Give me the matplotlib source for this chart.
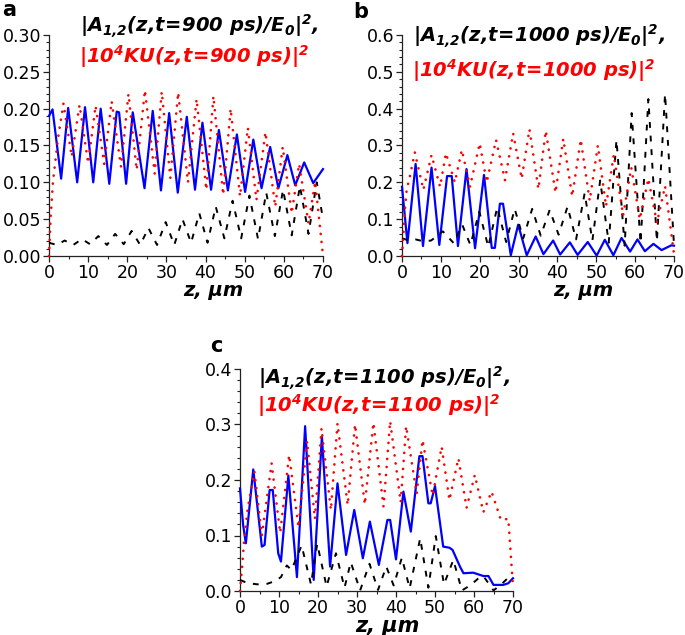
import matplotlib
matplotlib.use('Agg')
import matplotlib.pyplot as plt
from matplotlib.ticker import MultipleLocator, FormatStrFormatter

plt.rcParams['font.family'] = ['DejaVu Sans']
plt.rcParams['mathtext.fontset'] = 'custom'
plt.rcParams['mathtext.rm'] = 'DejaVu Sans:bold:italic'
plt.rcParams['mathtext.it'] = 'DejaVu Sans:bold:italic'
plt.rcParams['mathtext.bf'] = 'DejaVu Sans:bold:italic'

# ---------------- data ----------------
# panel a, t = 900 ps
a_blue_z = [0, 0.9, 3.1, 4.9, 7.2, 9.2, 11.3, 13.2, 15.4, 17.3, 17.9, 19.7, 21.4, 24.4, 26.5,
            28.6, 30.7, 32.9, 35.2, 37.3, 39.2, 41.4, 43.4, 45.7, 48.0, 50.1, 52.2, 54.3, 56.5,
            58.6, 60.9, 62.9, 65.2, 67.5, 70]
a_blue_v = [0.190, 0.199, 0.105, 0.201, 0.100, 0.202, 0.100, 0.200, 0.098, 0.196, 0.195, 0.098,
            0.195, 0.092, 0.197, 0.089, 0.194, 0.086, 0.189, 0.090, 0.181, 0.090, 0.171, 0.089,
            0.165, 0.087, 0.158, 0.092, 0.148, 0.092, 0.137, 0.096, 0.127, 0.099, 0.118]
a_red_z = [0, 0.4, 1.0, 2.3, 3.7, 5.8, 7.8, 10.0, 11.9, 14.1, 16.0, 18.4, 20.3, 22.4, 24.5, 27.0,
           28.8, 31.0, 33.0, 35.5, 37.7, 40.2, 42.0, 44.5, 46.4, 48.8, 50.8, 53.0, 55.3, 57.8,
           59.7, 62.0, 63.9, 66.3, 68.0, 70]
a_red_v = [0.0, 0.05, 0.10, 0.16, 0.207, 0.135, 0.205, 0.126, 0.204, 0.125, 0.210, 0.121, 0.220,
           0.117, 0.225, 0.112, 0.223, 0.106, 0.222, 0.100, 0.213, 0.090, 0.217, 0.083, 0.200,
           0.081, 0.174, 0.076, 0.168, 0.067, 0.148, 0.058, 0.125, 0.044, 0.101, 0.0]
a_black_z = [0, 2.0, 4.0, 6.2, 8.4, 10.5, 12.6, 14.8, 16.9, 19.1, 21.1, 23.3, 25.4, 27.6, 29.8,
             32.0, 34.1, 36.3, 38.4, 40.5, 42.6, 44.8, 46.9, 49.1, 51.2, 53.4, 55.5, 57.7, 59.8,
             62.0, 64.1, 66.3, 68.4, 70]
a_black_v = [0.018, 0.015, 0.021, 0.015, 0.023, 0.016, 0.027, 0.015, 0.030, 0.016, 0.034, 0.015,
             0.038, 0.015, 0.046, 0.015, 0.050, 0.018, 0.058, 0.018, 0.067, 0.024, 0.075, 0.024,
             0.082, 0.023, 0.086, 0.027, 0.090, 0.028, 0.095, 0.030, 0.100, 0.050]

# panel b, t = 1000 ps
b_blue_z = [0, 1.4, 3.5, 5.4, 7.6, 9.6, 11.6, 12.8, 14.4, 16.6, 18.8, 21.1, 23.1, 23.9, 25.2,
            26.0, 28.0, 29.9, 32.1, 34.4, 36.4, 38.9, 40.7, 43.2, 45.2, 47.8, 50.1, 52.2, 54.4,
            56.5, 58.7, 60.6, 62.5, 64.7, 66.8, 69.3, 70]
b_blue_v = [0.188, 0.035, 0.250, 0.027, 0.240, 0.030, 0.217, 0.217, 0.027, 0.236, 0.021, 0.220,
            0.022, 0.022, 0.142, 0.142, 0.002, 0.085, 0.002, 0.053, 0.005, 0.042, 0.004, 0.037,
            0.003, 0.038, 0.001, 0.044, 0.002, 0.049, 0.012, 0.045, 0.013, 0.033, 0.016, 0.029,
            0.028]
b_red_z = [0, 0.3, 0.8, 1.2, 2.0, 3.3, 5.5, 7.6, 9.8, 11.3, 13.6, 15.4, 17.5, 20.0, 21.8, 24.2,
           26.5, 28.6, 30.8, 32.8, 35.1, 37.0, 39.5, 41.5, 43.8, 46.0, 48.3, 50.4, 52.5, 54.5,
           56.9, 59.0, 61.2, 63.4, 65.6, 67.7, 70]
b_red_v = [0.0, 0.05, 0.13, 0.18, 0.215, 0.281, 0.180, 0.274, 0.188, 0.279, 0.200, 0.288, 0.188,
           0.306, 0.200, 0.315, 0.206, 0.333, 0.210, 0.344, 0.182, 0.340, 0.172, 0.318, 0.162,
           0.316, 0.150, 0.300, 0.135, 0.275, 0.110, 0.240, 0.100, 0.210, 0.090, 0.190, 0.005]
b_black_z = [0, 1.5, 3.5, 5.5, 7.5, 10.5, 13.3, 15.5, 17.6, 19.9, 22.2, 24.5, 26.8, 29.0, 31.2,
             33.5, 35.7, 38.0, 40.3, 42.6, 44.8, 47.0, 49.0, 51.0, 53.2, 55.2, 57.3, 59.1, 61.4,
             63.4, 65.6, 67.7, 70]
b_black_v = [0.048, 0.043, 0.045, 0.040, 0.042, 0.067, 0.035, 0.085, 0.030, 0.120, 0.025, 0.132,
             0.038, 0.128, 0.048, 0.128, 0.055, 0.125, 0.058, 0.134, 0.045, 0.170, 0.042, 0.205,
             0.036, 0.315, 0.028, 0.388, 0.035, 0.426, 0.040, 0.440, 0.030]

# panel c, t = 1100 ps
c_blue_z = [0, 0.8, 1.5, 3.4, 5.6, 6.3, 7.6, 8.4, 9.8, 10.5, 12.4, 14.6, 16.7, 18.9, 21.0, 23.1,
            25.0, 27.2, 29.3, 31.5, 33.3, 35.6, 37.8, 38.5, 40.0, 41.9, 43.8, 46.0, 46.8, 48.3,
            48.9, 50.0, 52.1, 53.7, 54.5, 56.4, 57.3, 59.8, 62.4, 63.7, 65.0, 67.5, 68.8, 70]
c_blue_v = [0.185, 0.119, 0.086, 0.219, 0.080, 0.083, 0.182, 0.182, 0.068, 0.053, 0.208, 0.025,
            0.297, 0.020, 0.278, 0.044, 0.194, 0.065, 0.146, 0.059, 0.125, 0.047, 0.128, 0.128,
            0.057, 0.179, 0.107, 0.243, 0.243, 0.158, 0.158, 0.189, 0.080, 0.078, 0.074, 0.044,
            0.032, 0.033, 0.027, 0.027, 0.011, 0.011, 0.014, 0.023]
c_red_z = [0, 0.5, 1.0, 2.0, 3.7, 5.6, 8.1, 10.3, 12.6, 15.0, 17.2, 19.2, 20.9, 23.3, 25.0, 27.6,
           29.5, 32.0, 34.2, 36.8, 38.5, 41.2, 42.6, 45.3, 46.8, 49.4, 51.7, 53.7, 56.0, 58.1,
           60.2, 62.4, 64.5, 66.9, 68.8, 70]
c_red_v = [0.0, 0.04, 0.086, 0.150, 0.215, 0.100, 0.230, 0.105, 0.245, 0.115, 0.270, 0.130,
           0.293, 0.146, 0.302, 0.155, 0.300, 0.156, 0.303, 0.152, 0.306, 0.160, 0.297, 0.175,
           0.272, 0.172, 0.260, 0.164, 0.239, 0.150, 0.209, 0.142, 0.179, 0.128, 0.130, 0.008]
c_black_z = [0, 2, 4.5, 7, 9, 10.5, 12, 13.2, 15.8, 18.2, 19.8, 22.2, 24.6, 26.8, 28.4, 30.8,
             33.2, 35.4, 37.5, 39.4, 41.5, 43.5, 46.2, 48.3, 50.2, 52.3, 54.7, 56.9, 59, 61,
             62.4, 65, 67, 68.5, 70]
c_black_v = [0.020, 0.014, 0.012, 0.013, 0.018, 0.025, 0.046, 0.038, 0.082, 0.012, 0.085, 0.008,
             0.068, 0.006, 0.052, 0.001, 0.049, 0.002, 0.044, 0.010, 0.060, 0.005, 0.095, 0.006,
             0.099, 0.012, 0.056, 0.001, 0.010, 0.022, 0.027, 0.001, 0.012, 0.022, 0.020]

panel_letters = ['a', 'b', 'c']
times = ['900', '1000', '1100']
y_max = [0.30, 0.6, 0.4]
y_step = [0.05, 0.1, 0.1]
y_fmt = ['%.2f', '%.1f', '%.1f']
x_ticks = [0, 10, 20, 30, 40, 50, 60, 70]
xlabel_text = 'z, \u03bcm'

# ---------------- layout ----------------
W, H = 685, 635
fig = plt.figure(figsize=(W / 100, H / 100), dpi=100)


def fx(px):
    return px / W


def fy(py):
    return 1 - py / H


layout = [
    # axes l, r, t, b ; title1 (x, baseline) ; title2 ; letter ; xlabel (x, baseline, size)
    dict(box=(49, 323, 35, 256), t1=(80, 33), t2=(79, 63), let=(2, 16), xl=(183, 296, 14)),
    dict(box=(402, 674, 35, 256), t1=(413, 43), t2=(412, 77), let=(353, 18), xl=(553, 296, 14)),
    dict(box=(240, 513, 369, 591), t1=(258, 385), t2=(257, 412), let=(210, 352), xl=(355, 632, 15)),
]

series = [
    (a_blue_z, a_blue_v, a_red_z, a_red_v, a_black_z, a_black_v),
    (b_blue_z, b_blue_v, b_red_z, b_red_v, b_black_z, b_black_v),
    (c_blue_z, c_blue_v, c_red_z, c_red_v, c_black_z, c_black_v),
]

for i in range(3):
    L = layout[i]
    l, r, t, b = L['box']
    ax = fig.add_axes([fx(l), fy(b), (r - l) / W, (b - t) / H])
    bz, bv, rz, rv, kz, kv = series[i]
    ax.plot(bz, bv, color='#0000ff', lw=1.6, solid_joinstyle='round', zorder=3, clip_on=False)
    ax.plot(kz, kv, color='black', lw=1.4, linestyle=(0, (3.0, 4.0)), zorder=4, clip_on=False)
    ax.plot(rz, rv, color='#ff0000', lw=1.9, linestyle=(0, (0.05, 3.0)), zorder=5,
            dash_capstyle='round', clip_on=False)

    ax.set_xlim(0, 70)
    ax.set_ylim(0, y_max[i])
    ax.set_xticks(x_ticks)
    ax.xaxis.set_minor_locator(MultipleLocator(5))
    ax.yaxis.set_major_locator(MultipleLocator(y_step[i]))
    ax.yaxis.set_minor_locator(MultipleLocator(y_step[i] / 5))
    ax.yaxis.set_major_formatter(FormatStrFormatter(y_fmt[i]))
    for s in ['top', 'right']:
        ax.spines[s].set_visible(False)
    for s in ['left', 'bottom']:
        ax.spines[s].set_linewidth(0.9)
        ax.spines[s].set_color('#222222')
    ax.tick_params(which='major', direction='out', length=4, width=0.9, color='#222222',
                   labelsize=12.5, pad=1.5)
    ax.tick_params(which='minor', direction='out', length=2.3, width=0.8, color='#222222')
    ax.patch.set_alpha(0)

    # titles
    x1, y1 = L['t1']
    fig.text(fx(x1), fy(y1), r'$|A_{1{,}2}(z{,}t\!=\!%s\ ps)/E_0|^2{,}$' % times[i],
             fontsize=14, color='black', ha='left', va='baseline')
    x2, y2 = L['t2']
    fig.text(fx(x2), fy(y2), r'$|10^4KU(z{,}t\!=\!%s\ ps)|^2$' % times[i],
             fontsize=14, color='#ff0000', ha='left', va='baseline')
    # panel letter
    lx, ly = L['let']
    fig.text(fx(lx), fy(ly), panel_letters[i], fontsize=15, fontweight='bold',
             ha='left', va='baseline')
    # x label
    xx, xy, xs = L['xl']
    fig.text(fx(xx), fy(xy), xlabel_text, fontsize=xs, fontweight='bold', fontstyle='italic',
             ha='left', va='baseline')

fig.savefig('out.png', dpi=100)
